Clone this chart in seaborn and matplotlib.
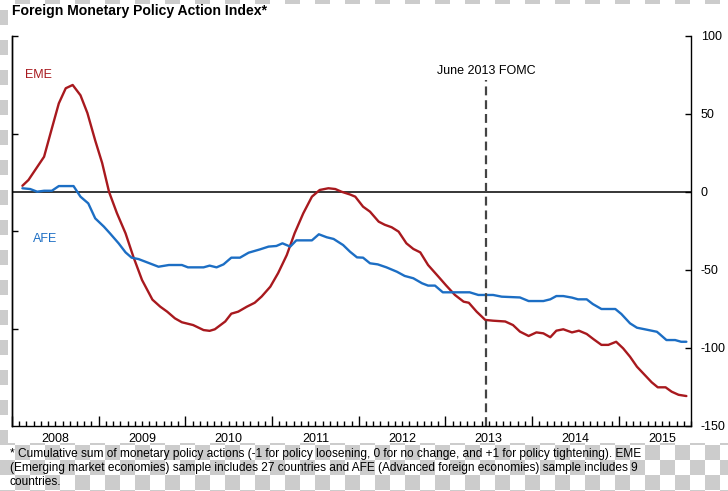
import numpy as np
import pandas as pd
import matplotlib
matplotlib.use('Agg')
import matplotlib.pyplot as plt
from matplotlib.ticker import FixedLocator, FuncFormatter, NullFormatter
import seaborn as sns

# time in decimal years, index values
eme_t = [2008.12, 2008.19, 2008.37, 2008.46, 2008.54, 2008.62, 2008.70, 2008.79, 2008.87, 2008.96,
         2009.04, 2009.12, 2009.21, 2009.31, 2009.40, 2009.50, 2009.62, 2009.71, 2009.79, 2009.88, 2009.96,
         2010.09, 2010.21, 2010.28, 2010.34, 2010.46, 2010.53, 2010.61, 2010.71, 2010.80, 2010.88, 2010.98,
         2011.07, 2011.17, 2011.26, 2011.36, 2011.46, 2011.55, 2011.65, 2011.73, 2011.80, 2011.90, 2011.96,
         2012.05, 2012.13, 2012.23, 2012.30, 2012.38, 2012.46, 2012.55, 2012.63, 2012.71, 2012.80, 2012.92,
         2013.01, 2013.11, 2013.21, 2013.27, 2013.36, 2013.46, 2013.55, 2013.69, 2013.78, 2013.86, 2013.96,
         2014.05, 2014.13, 2014.21, 2014.28, 2014.36, 2014.46, 2014.54, 2014.63, 2014.71, 2014.80, 2014.88, 2014.97,
         2015.05, 2015.13, 2015.21, 2015.30, 2015.38, 2015.45, 2015.54, 2015.61, 2015.69, 2015.78]
eme_v = [4, 7.7, 22.6, 40.8, 56.8, 66.5, 68.6, 62, 50.6, 33,
         18.6, 0, -13.5, -26.5, -41.5, -56.4, -69, -73.5, -76.7, -81, -83.5,
         -85.3, -88.5, -89, -88, -83, -78, -76.7, -73.5, -71, -67, -60.7,
         -52, -40.4, -26.5, -13.7, -3, 1.3, 2.4, 1.9, 0.2, -1.6, -3,
         -9.4, -12.6, -19, -21, -22.6, -25.4, -32.9, -36.5, -38.7, -46.8, -54.3,
         -60, -66, -70.3, -71, -76.7, -82, -82.5, -83, -85.3, -89.5, -92.3,
         -90, -90.6, -93.1, -88.9, -88, -90, -88.9, -91, -94.4, -98, -98, -96,
         -100.2, -105.6, -112, -117.3, -122, -125.2, -125.2, -128, -130, -130.8]

afe_t = [2008.12, 2008.21, 2008.29, 2008.37, 2008.46, 2008.54, 2008.71, 2008.79, 2008.88, 2008.96,
         2009.06, 2009.13, 2009.23, 2009.31, 2009.38, 2009.46, 2009.54, 2009.69, 2009.81, 2009.96,
         2010.03, 2010.21, 2010.28, 2010.36, 2010.44, 2010.53, 2010.63, 2010.73, 2010.86, 2010.96,
         2011.05, 2011.12, 2011.21, 2011.28, 2011.46, 2011.54, 2011.63, 2011.71, 2011.82, 2011.90, 2011.98,
         2012.05, 2012.13, 2012.22, 2012.32, 2012.44, 2012.53, 2012.63, 2012.73, 2012.80, 2012.88, 2012.97,
         2013.28, 2013.38, 2013.55, 2013.65, 2013.86, 2013.96,
         2014.13, 2014.21, 2014.28, 2014.36, 2014.46, 2014.53, 2014.63, 2014.70, 2014.80, 2014.96,
         2015.03, 2015.13, 2015.21, 2015.30, 2015.44, 2015.47, 2015.55, 2015.65, 2015.72, 2015.78]
afe_v = [2.4, 1.9, 0.2, 0.8, 0.8, 3.8, 3.8, -3, -7.3, -16.9,
         -22.2, -26.5, -32.9, -38.7, -42.1, -43, -44.7, -47.9, -46.8, -46.8,
         -48.3, -48.3, -47.2, -48.3, -46.4, -42.1, -42.1, -38.9, -36.8, -35,
         -34.6, -32.9, -35, -31, -31, -27.1, -29, -30.1, -34, -38.3, -41.9,
         -42.1, -45.7, -46.4, -48.3, -51.1, -53.8, -55.3, -58.5, -60, -60, -64.3,
         -64.3, -66, -66, -67.1, -67.6, -69.9,
         -69.9, -68.8, -66.7, -66.7, -67.7, -68.8, -68.8, -71.8, -75, -75,
         -78.2, -84.2, -87, -88, -89.6, -91, -94.9, -94.9, -96, -96]

fomc_t = 2013.47  # June 2013 FOMC meeting
x_start, x_end = 2008.0, 2015 + 10 / 12
y_ticks = [100, 50, 0, -50, -100, -150]
years = list(range(2008, 2016))

title = 'Foreign Monetary Policy Action Index*'
footnote = ('* Cumulative sum of monetary policy actions (-1 for policy loosening, 0 for no change, '
            'and +1 for policy tightening). EME\n'
            '(Emerging market economies) sample includes 27 countries and AFE (Advanced foreign '
            'economies) sample includes 9\ncountries.')

red = '#A8191E'
blue = '#1C6EC4'

sns.set_style('white', {'axes.edgecolor': 'black', 'text.color': 'black',
                        'xtick.color': 'black', 'ytick.color': 'black'})
plt.rcParams['font.family'] = ['Liberation Sans', 'DejaVu Sans']

fig = plt.figure(figsize=(7.28, 4.91), dpi=100)

# transparent-background checkerboard seen around the chart panel
h, w = 491, 728
yy, xx = np.mgrid[0:h, 0:w]
img = np.where((xx // 15 + (yy + 5) // 15) % 2 == 1, 0.8, 1.0)
img[4:443, 8:] = 1.0
fig.figimage(img, cmap='gray', vmin=0, vmax=1, origin='upper', zorder=-10)

ax = fig.add_axes([12 / 728, 1 - 426 / 491, (691 - 12) / 728, (426 - 36) / 491])

df = pd.concat([
    pd.DataFrame({'t': eme_t, 'value': eme_v, 'series': 'EME'}),
    pd.DataFrame({'t': afe_t, 'value': afe_v, 'series': 'AFE'}),
])
ax.axhline(0, color='black', linewidth=1.1, zorder=1.5)
sns.lineplot(data=df, x='t', y='value', hue='series', palette={'EME': red, 'AFE': blue},
             estimator=None, sort=False, legend=False, linewidth=1.7, ax=ax, zorder=2)
ax.vlines(fomc_t, -150, 72, colors='#444444', linestyles=(0, (4, 2.2)), linewidth=1.6)

ax.set_xlim(x_start, x_end)
ax.set_ylim(-150, 100)
ax.set_xlabel('')
ax.set_ylabel('')

# right-hand value axis
ax.yaxis.tick_right()
ax.set_yticks(y_ticks)
ax.set_yticklabels([str(v) for v in y_ticks])
ax.tick_params(axis='y', which='major', right=True, direction='in', length=4, width=1,
               pad=7, labelsize=9)

# year ticks, monthly minor ticks, year labels at mid-year
ax.xaxis.set_major_locator(FixedLocator(years))
ax.xaxis.set_major_formatter(NullFormatter())
ax.xaxis.set_minor_locator(FixedLocator([x_start + k / 12 for k in range(95)]))


def year_label(x, pos):
    yr = np.floor(x + 1e-6)
    k = int(round((x - yr) * 12))
    return str(int(yr)) if k == 6 else ''


ax.xaxis.set_minor_formatter(FuncFormatter(year_label))
ax.tick_params(axis='x', which='major', bottom=True, direction='in', length=7.5, width=1)
ax.tick_params(axis='x', which='minor', bottom=True, direction='in', length=3.8, width=1,
               pad=5, labelsize=9)

for side in ['left', 'right', 'bottom']:
    ax.spines[side].set_linewidth(1)
ax.spines['top'].set_visible(False)

# unlabeled ticks on the left axis (quarters of the axis height)
sec = ax.secondary_yaxis('left', functions=(lambda v: (v + 150) / 62.5, lambda f: f * 62.5 - 150))
sec.set_yticks([1, 2, 3, 4])
sec.yaxis.set_major_formatter(NullFormatter())
sec.tick_params(direction='in', length=4, width=1)
sec.spines['left'].set_linewidth(1)

ax.text(2008.30, 75, 'EME', color=red, fontsize=9, ha='center', va='center')
ax.text(2008.38, -30, 'AFE', color=blue, fontsize=9, ha='center', va='center')
ax.text(fomc_t, 77.5, 'June 2013 FOMC', fontsize=9, ha='center', va='center')

fig.text(12 / 728, 1 - 11 / 491, title, fontsize=10.1, fontweight='bold', ha='left', va='center')
fig.text(10 / 728, 1 - 448 / 491, footnote, fontsize=8.6, ha='left', va='top', linespacing=1.2)

fig.savefig('out.png', dpi=100)
